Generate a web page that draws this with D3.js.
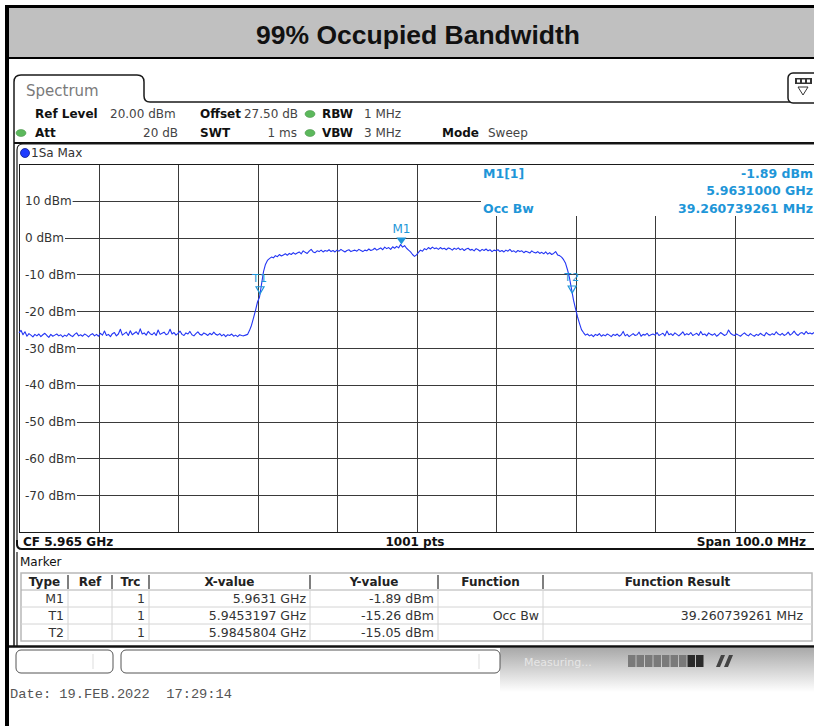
<!DOCTYPE html>
<html>
<head>
<meta charset="utf-8">
<script src="https://cdn.jsdelivr.net/npm/d3@7"></script>
<style>
  body { margin: 0; background: #fff; }
  svg { display: block; }
  text { font-family: "DejaVu Sans", Verdana, sans-serif; }
</style>
</head>
<body>
<svg id="chart" width="814" height="726"></svg>
<script>
// ---- data ----
const chartTitle = '99% Occupied Bandwidth';
const startFreqMHz = 5915;
const stopFreqMHz = 6015;
const traceStepMHz = 0.25;
const freqGridMHz = [5925, 5935, 5945, 5955, 5965, 5975, 5985, 5995, 6005];
const levelTicks = [10, 0, -10, -20, -30, -40, -50, -60, -70];
const levelRange = [20, -80];

// trace 1 (max hold), dBm, one value per 0.25 MHz
const traceDbm = [
  -25.9,-25.2,-26.4,-25.6,-26.8,-26.1,-26.5,-27.0,-26.3,-26.7,-26.2,-26.9,-26.4,-26.0,-26.6,-27.1,-26.3,-26.8,-26.5,-26.2,
  -26.7,-26.4,-27.0,-26.5,-26.8,-26.1,-26.6,-26.9,-26.3,-25.9,-26.7,-26.4,-26.8,-26.2,-26.5,-27.0,-26.4,-26.1,-26.7,-26.3,
  -26.8,-26.0,-26.5,-25.4,-26.6,-26.3,-26.9,-26.1,-25.8,-26.7,-26.2,-24.9,-26.5,-26.1,-25.7,-26.6,-25.3,-26.4,-26.0,-25.6,
  -26.3,-24.8,-26.2,-25.9,-26.5,-25.5,-26.1,-26.4,-25.8,-26.6,-25.1,-26.3,-26.0,-25.7,-26.4,-26.1,-24.9,-26.2,-25.8,-26.5,
  -26.0,-25.4,-26.3,-26.6,-25.9,-26.2,-25.5,-26.4,-26.7,-26.1,-25.6,-26.3,-26.5,-25.9,-26.2,-26.6,-26.0,-26.4,-25.7,-26.3,
  -26.5,-26.1,-26.7,-26.3,-26.9,-26.4,-26.6,-26.2,-26.8,-26.5,-26.9,-26.4,-26.6,-26.7,-26.5,-26.3,-25.2,-23.8,-21.8,-19.8,
  -17.5,-16.2,-12.8,-9.3,-7.3,-6.2,-5.7,-5.3,-5.5,-4.9,-5.2,-4.6,-5.0,-4.7,-4.4,-4.8,-4.3,-4.6,-4.1,-4.5,
  -4.2,-3.9,-4.4,-3.6,-4.0,-4.3,-3.7,-3.2,-3.9,-4.1,-3.6,-3.8,-3.4,-3.9,-3.5,-3.7,-3.3,-3.8,-3.5,-3.9,
  -3.4,-3.7,-3.2,-3.6,-3.9,-3.5,-3.3,-3.8,-3.6,-3.4,-3.7,-3.2,-3.5,-3.8,-3.4,-3.6,-3.1,-3.5,-3.3,-2.9,
  -3.4,-3.1,-2.8,-3.3,-2.6,-3.0,-2.7,-3.2,-2.5,-2.9,-2.4,-2.8,-1.9,-2.6,-2.2,-2.9,-3.4,-3.9,-4.6,-5.1,
  -4.7,-4.0,-3.4,-3.7,-3.0,-3.3,-2.7,-3.1,-2.6,-3.0,-2.8,-3.2,-2.7,-3.1,-2.9,-3.3,-2.8,-3.0,-3.4,-2.9,
  -3.2,-2.8,-3.3,-3.0,-3.5,-3.1,-2.9,-3.4,-3.2,-3.6,-3.0,-3.3,-3.7,-3.2,-3.5,-3.1,-3.6,-3.3,-3.8,-3.4,
  -3.6,-3.3,-3.8,-3.5,-3.9,-3.4,-3.7,-3.2,-3.8,-3.6,-4.0,-3.5,-3.8,-3.6,-4.1,-3.7,-3.9,-4.2,-3.6,-4.0,
  -4.2,-3.8,-4.3,-4.0,-4.4,-3.9,-4.5,-4.1,-4.6,-4.3,-3.8,-4.7,-4.9,-5.3,-6.0,-7.0,-8.8,-11.0,-14.0,-17.0,
  -19.3,-21.5,-23.3,-25.0,-25.8,-26.5,-26.2,-26.7,-26.4,-26.9,-26.3,-26.6,-26.1,-26.8,-26.4,-26.7,-26.2,-26.5,-26.9,-26.3,
  -26.6,-26.2,-26.8,-26.4,-25.5,-26.7,-26.3,-26.9,-26.5,-26.1,-26.6,-26.4,-25.7,-26.8,-26.3,-26.5,-26.0,-26.7,-26.4,-26.2,
  -26.5,-25.8,-26.6,-26.3,-26.0,-26.7,-25.4,-26.4,-26.1,-26.6,-25.9,-26.3,-26.7,-26.2,-25.6,-26.5,-26.1,-26.4,-25.8,-26.6,
  -26.3,-26.0,-26.6,-25.5,-26.4,-26.2,-26.7,-25.9,-26.3,-26.5,-26.1,-26.8,-26.4,-25.8,-26.2,-26.6,-26.3,-25.1,-26.0,-26.4,
  -26.6,-26.2,-26.5,-26.8,-26.3,-25.9,-26.4,-26.7,-26.1,-26.5,-26.8,-26.3,-26.6,-26.0,-26.4,-26.7,-25.8,-26.3,-26.5,-26.1,
  -26.4,-25.6,-26.2,-26.5,-26.0,-26.6,-26.3,-25.7,-26.5,-26.1,-25.4,-26.2,-26.6,-26.0,-25.8,-26.3,-25.5,-26.1,-25.9,-26.2,
  -25.8
];

const markerTypes = ['M1', 'T1', 'T2'];
const markerTraces = [1, 1, 1];
const markerFreqGHz = [5.9631, 5.9453197, 5.9845804];
const markerLevelDbm = [-1.89, -15.26, -15.05];
const markerFunctions = ['', 'Occ Bw', ''];
const occBwMHz = 39.260739261;

const tableHeaders = ['Type', 'Ref', 'Trc', 'X-value', 'Y-value', 'Function', 'Function Result'];
const setupRow1 = [['Ref Level', '20.00 dBm'], ['Offset', '27.50 dB'], ['RBW', '1 MHz']];
const setupRow2 = [['Att', '20 dB'], ['SWT', '1 ms'], ['VBW', '3 MHz'], ['Mode', 'Sweep']];
const footer = ['CF 5.965 GHz', '1001 pts', 'Span 100.0 MHz'];
const dateStamp = 'Date: 19.FEB.2022  17:29:14';

// ---- layout ----
const W = 814, H = 726;
const plot = { left: 19, right: 814, top: 164, bottom: 532 };
const markerBlue = '#1e96d8';
const traceBlue = '#2436f4';
const gridColor = '#3a3a3a';

const svg = d3.select('#chart');
svg.append('rect').attr('width', W).attr('height', H).attr('fill', '#fff');

// outer frame + title band
svg.append('rect').attr('x', 5).attr('y', 5).attr('width', 4).attr('height', H - 5).attr('fill', '#000');
svg.append('rect').attr('x', 5).attr('y', 5).attr('width', W - 5).attr('height', 3).attr('fill', '#000');
svg.append('rect').attr('x', 9).attr('y', 8).attr('width', W - 9).attr('height', 49).attr('fill', '#c0c0c0');
svg.append('rect').attr('x', 9).attr('y', 57).attr('width', W - 9).attr('height', 2).attr('fill', '#000');
svg.append('text')
  .attr('x', 418).attr('y', 44)
  .attr('text-anchor', 'middle')
  .style('font-family', '"Liberation Sans", Arial, sans-serif')
  .style('font-weight', 'bold').style('font-size', '26.5px')
  .attr('fill', '#111')
  .text(chartTitle);

// spectrum tab + window border
svg.append('path')
  .attr('d', 'M14,646 L14,82 Q14,75 21,75 L137,75 Q144,75 144,82 L144,96 Q144,102 150,102 L814,102')
  .attr('fill', 'none').attr('stroke', '#1a1a1a').attr('stroke-width', 1.5);
svg.append('text').attr('x', 26).attr('y', 96)
  .style('font-size', '15px').attr('fill', '#7a7a7a').text('Spectrum');

// top-right icon
const icon = svg.append('g');
icon.append('rect').attr('x', 788).attr('y', 73).attr('width', 34).attr('height', 30).attr('rx', 5)
  .attr('fill', '#fff').attr('stroke', '#1a1a1a').attr('stroke-width', 1.5);
icon.append('rect').attr('x', 795).attr('y', 78).attr('width', 17).attr('height', 6).attr('fill', '#333');
[797, 802, 807].forEach(px => icon.append('rect').attr('x', px).attr('y', 79.5).attr('width', 3).attr('height', 3).attr('fill', '#fff'));
icon.append('path').attr('d', 'M798,87 L808,87 L803,95 Z').attr('fill', 'none').attr('stroke', '#333');

// setup header
function led(cx, cy) {
  svg.append('ellipse').attr('cx', cx).attr('cy', cy).attr('rx', 5).attr('ry', 3.5)
    .attr('fill', '#5cb85c').attr('stroke', '#3d8b3d').attr('stroke-width', 0.5);
}
const hdr = svg.append('g').style('font-size', '12px');
function setupPair(lbl, val, lx, vx, vAnchor, yb) {
  hdr.append('text').attr('x', lx).attr('y', yb).style('font-weight', 'bold').attr('fill', '#111').text(lbl);
  hdr.append('text').attr('x', vx).attr('y', yb).attr('text-anchor', vAnchor).attr('fill', '#444').text(val);
}
setupPair(setupRow1[0][0], setupRow1[0][1], 35, 110, 'start', 118);
setupPair(setupRow1[1][0], setupRow1[1][1], 200, 298, 'end', 118);
setupPair(setupRow1[2][0], setupRow1[2][1], 322, 364, 'start', 118);
setupPair(setupRow2[0][0], setupRow2[0][1], 35, 178, 'end', 137);
setupPair(setupRow2[1][0], setupRow2[1][1], 200, 297, 'end', 137);
setupPair(setupRow2[2][0], setupRow2[2][1], 322, 364, 'start', 137);
setupPair(setupRow2[3][0], setupRow2[3][1], 442, 488, 'start', 137);
led(310, 114); led(310, 133); led(21, 133);
svg.append('line').attr('x1', 14).attr('x2', W).attr('y1', 143).attr('y2', 143)
  .attr('stroke', '#111').attr('stroke-width', 2);

// trace window border
svg.append('path')
  .attr('d', 'M17,546 L17,150 Q17,144 23,144 L814,144')
  .attr('fill', 'none').attr('stroke', '#1a1a1a').attr('stroke-width', 1.2);
svg.append('circle').attr('cx', 25).attr('cy', 153).attr('r', 4.5)
  .attr('fill', '#1f3cff').attr('stroke', '#0a1a90').attr('stroke-width', 0.8);
svg.append('text').attr('x', 31).attr('y', 157).style('font-size', '12px').attr('fill', '#333').text('1Sa Max');

// scales
const x = d3.scaleLinear().domain([startFreqMHz, stopFreqMHz]).range([plot.left, plot.right]);
const y = d3.scaleLinear().domain(levelRange).range([plot.top, plot.bottom]);
const plotW = plot.right - plot.left, plotH = plot.bottom - plot.top;

// grid via axes
const gx = svg.append('g').attr('transform', `translate(0,${plot.top})`)
  .call(d3.axisBottom(x).tickValues(freqGridMHz).tickSize(plotH).tickFormat(''));
const gy = svg.append('g').attr('transform', `translate(${plot.left},0)`)
  .call(d3.axisRight(y).tickValues(levelTicks).tickSize(plotW).tickFormat(''));
[gx, gy].forEach(g => {
  g.select('.domain').remove();
  g.selectAll('line').attr('stroke', gridColor).attr('shape-rendering', 'crispEdges');
});
svg.append('rect')
  .attr('x', plot.left).attr('y', plot.top).attr('width', plotW + 4).attr('height', plotH)
  .attr('fill', 'none').attr('stroke', '#1a1a1a').attr('shape-rendering', 'crispEdges');

// level labels sit on the grid lines with a white backing
const lbl = svg.append('g').style('font-size', '12px');
levelTicks.forEach(v => {
  const t = lbl.append('text').attr('x', 25).attr('y', y(v) + 4.5).attr('fill', '#333').text(`${v} dBm`);
  const w = t.node().getComputedTextLength();
  lbl.insert('rect', 'text').attr('x', plot.left + 1).attr('y', y(v) - 2).attr('width', 25 - plot.left + w)
    .attr('height', 4).attr('fill', '#fff');
});

// marker info panel
svg.append('rect').attr('x', 481).attr('y', plot.top + 1).attr('width', W - 481).attr('height', 51).attr('fill', '#fff');
const info = svg.append('g').style('font-size', '12.5px').style('font-weight', 'bold').attr('fill', markerBlue);
info.append('text').attr('x', 483).attr('y', 178).text(`${markerTypes[0]}[${markerTraces[0]}]`);
info.append('text').attr('x', 813).attr('y', 178).attr('text-anchor', 'end').text(`${markerLevelDbm[0].toFixed(2)} dBm`);
info.append('text').attr('x', 813).attr('y', 195).attr('text-anchor', 'end').text(`${markerFreqGHz[0].toFixed(7)} GHz`);
info.append('text').attr('x', 483).attr('y', 213).text(markerFunctions[1]);
info.append('text').attr('x', 813).attr('y', 213).attr('text-anchor', 'end').text(`${occBwMHz.toFixed(9)} MHz`);

// trace
const line = d3.line()
  .x((d, i) => x(startFreqMHz + i * traceStepMHz))
  .y(d => y(d));
svg.append('path').datum(traceDbm)
  .attr('d', line).attr('fill', 'none')
  .attr('stroke', traceBlue).attr('stroke-width', 1.1).attr('stroke-linejoin', 'round');

// markers on the trace
markerTypes.forEach((m, i) => {
  const mx = x(markerFreqGHz[i] * 1000), my = y(markerLevelDbm[i]);
  const g = svg.append('g');
  if (m === 'M1') {
    g.append('path').attr('d', `M${mx - 5},${my - 7} L${mx + 5},${my - 7} L${mx},${my} Z`).attr('fill', markerBlue);
    g.append('text').attr('x', mx).attr('y', my - 12).attr('text-anchor', 'middle')
      .style('font-size', '12px').attr('fill', markerBlue).text(m);
  } else {
    g.append('path').attr('d', `M${mx - 4},${my - 7} L${mx + 4},${my - 7} L${mx},${my} Z`)
      .attr('fill', 'none').attr('stroke', markerBlue).attr('stroke-width', 1.2);
    g.append('text').attr('x', mx).attr('y', my - 12).attr('text-anchor', 'middle')
      .style('font-size', '11px').style('letter-spacing', '1px').attr('fill', markerBlue).text(m);
  }
});

// footer of the diagram
svg.append('path').attr('d', 'M17,540 L17,544 Q17,549 22,549 L814,549')
  .attr('fill', 'none').attr('stroke', '#111').attr('stroke-width', 2);
const foot = svg.append('g').style('font-size', '12px').style('font-weight', 'bold').attr('fill', '#111');
foot.append('text').attr('x', 23).attr('y', 546).text(footer[0]);
foot.append('text').attr('x', 415).attr('y', 546).attr('text-anchor', 'middle').text(footer[1]);
foot.append('text').attr('x', 806).attr('y', 546).attr('text-anchor', 'end').text(footer[2]);

// marker table
svg.append('line').attr('x1', 17).attr('x2', 17).attr('y1', 552).attr('y2', 646).attr('stroke', '#1a1a1a').attr('stroke-width', 1.2);
svg.append('text').attr('x', 20).attr('y', 566).style('font-size', '12px').attr('fill', '#111').text('Marker');
const colX = [21, 68, 112, 149, 310, 438, 543, 812];
const rowY = [573, 590, 607, 624, 641];
const tbl = svg.append('g');
tbl.append('rect').attr('x', colX[0]).attr('y', rowY[0]).attr('width', colX[7] - colX[0]).attr('height', rowY[4] - rowY[0])
  .attr('fill', '#fff').attr('stroke', '#b8b8b8').attr('stroke-width', 1.5);
rowY.slice(1, 4).forEach(ry => tbl.append('line').attr('x1', colX[0]).attr('x2', colX[7]).attr('y1', ry).attr('y2', ry)
  .attr('stroke', ry === rowY[1] ? '#b0b0b0' : '#d4d4d4'));
colX.slice(1, 7).forEach(cx => {
  tbl.append('line').attr('x1', cx).attr('x2', cx).attr('y1', rowY[1]).attr('y2', rowY[4]).attr('stroke', '#d4d4d4');
  tbl.append('line').attr('x1', cx).attr('x2', cx).attr('y1', rowY[0] + 2).attr('y2', rowY[1] - 1)
    .attr('stroke', '#555').attr('stroke-width', 1.5);
});
tableHeaders.forEach((h, i) => {
  tbl.append('text').attr('x', (colX[i] + colX[i + 1]) / 2).attr('y', 586).attr('text-anchor', 'middle')
    .style('font-size', '12px').style('font-weight', 'bold').attr('fill', '#222').text(h);
});
markerTypes.forEach((m, r) => {
  const cells = [m, '', String(markerTraces[r]), `${markerFreqGHz[r]} GHz`,
    `${markerLevelDbm[r].toFixed(2)} dBm`, markerFunctions[r], markerFunctions[r] ? `${occBwMHz.toFixed(9)} MHz` : ''];
  cells.forEach((c, i) => {
    if (!c) return;
    tbl.append('text').attr('x', colX[i + 1] - (i === 6 ? 9 : 4)).attr('y', rowY[r + 1] + 12.5)
      .attr('text-anchor', 'end').style('font-size', '12.5px').attr('fill', '#333').text(c);
  });
});
svg.append('line').attr('x1', 9).attr('x2', W).attr('y1', 646.5).attr('y2', 646.5).attr('stroke', '#111').attr('stroke-width', 2.5);

// status bar
const grad = svg.append('defs').append('linearGradient').attr('id', 'sb').attr('x1', 0).attr('x2', 0).attr('y1', 0).attr('y2', 1);
grad.append('stop').attr('offset', '0%').attr('stop-color', '#a9a9a9');
grad.append('stop').attr('offset', '100%').attr('stop-color', '#ffffff');
svg.append('rect').attr('x', 500).attr('y', 648).attr('width', W - 500).attr('height', 44).attr('fill', 'url(#sb)');
svg.append('rect').attr('x', 16).attr('y', 650).attr('width', 97).attr('height', 23).attr('rx', 5)
  .attr('fill', '#fff').attr('stroke', '#555');
svg.append('line').attr('x1', 93).attr('x2', 93).attr('y1', 654).attr('y2', 669).attr('stroke', '#ddd');
svg.append('rect').attr('x', 121).attr('y', 650).attr('width', 379).attr('height', 23).attr('rx', 5)
  .attr('fill', '#fff').attr('stroke', '#555');
svg.append('line').attr('x1', 479).attr('x2', 479).attr('y1', 654).attr('y2', 669).attr('stroke', '#ddd');
svg.append('text').attr('x', 524).attr('y', 666).style('font-size', '11px').attr('fill', '#e6e6e6').text('Measuring...');
d3.range(9).forEach(k => {
  svg.append('rect').attr('x', 628 + k * 8.5).attr('y', 655).attr('width', 7.5).attr('height', 12)
    .attr('fill', k >= 7 ? '#2a2a2a' : '#7a7a7a');
});
svg.append('path').attr('d', 'M716,667 L721,655 L725,655 L720,667 Z M724,667 L729,655 L733,655 L728,667 Z')
  .attr('fill', '#444');

// date stamp
svg.append('text').attr('x', 10).attr('y', 698)
  .style('font-family', '"Liberation Mono", "DejaVu Sans Mono", monospace').style('font-size', '13px')
  .style('white-space', 'pre').attr('xml:space', 'preserve')
  .attr('fill', '#555').attr('textLength', 222).attr('lengthAdjust', 'spacingAndGlyphs')
  .text(dateStamp);
</script>
</body>
</html>
